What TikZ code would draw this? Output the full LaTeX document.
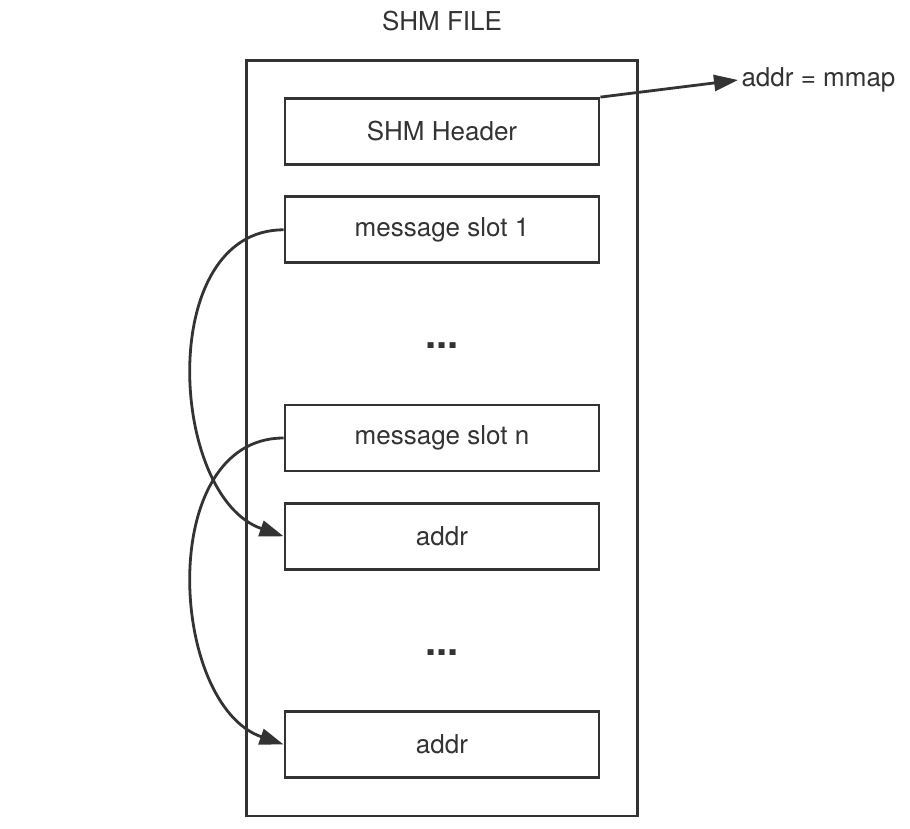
\documentclass[tikz,border=0pt]{standalone}
\usepackage{fontspec}
\setmainfont{TeX Gyre Heros}
\usepackage{tikz}
\usetikzlibrary{arrows.meta, positioning, fit}
\definecolor{ink}{HTML}{333333}
\tikzset{
  slot/.style={rectangle, draw=ink, line width=2.8pt, fill=white,
               minimum width=314pt, minimum height=66pt, text=ink,
               inner sep=0pt},
  gap/.style={rectangle, minimum width=314pt, minimum height=80pt,
              text height=30pt, text depth=0pt, text=ink, inner sep=0pt,
              font=\fontsize{40}{40}\bfseries},
  filebox/.style={rectangle, draw=ink, line width=2.8pt, inner sep=37pt},
  arrow/.style={-{Triangle[length=24pt, width=16pt]}, line width=2.8pt, draw=ink},
}

\begin{document}
\begin{tikzpicture}[x=1pt, y=-1pt, node distance=29.5pt,
                    font=\fontsize{26}{30}\selectfont]

  \useasboundingbox (0,0) rectangle (910,828);

  \node[slot]                    (hdr)   at (442,131.5) {SHM Header};
  \node[slot,  below=of hdr]     (slot1) {message slot 1};
  \node[gap,   below=of slot1]   (dots1) {...};
  \node[slot,  below=of dots1]   (slotn) {message slot n};
  \node[slot,  below=of slotn]   (addr1) {addr};
  \node[gap,   below=of addr1]   (dots2) {...};
  \node[slot,  below=of dots2]   (addr2) {addr};

  \node[filebox, fit=(hdr) (addr2)] (file) {};
  \node[text=ink, above=24pt of file] (title) {SHM FILE};
  \node[text=ink, anchor=west] (mmap) at (738,80) {addr = mmap};

  \draw[arrow] (hdr.north east) -- (mmap.west);
  \draw[arrow] (slot1.west) .. controls +(-128,0) and +(-115,-40) .. (addr1.west);
  \draw[arrow] (slotn.west) .. controls +(-128,0) and +(-115,-40) .. (addr2.west);

\end{tikzpicture}
\end{document}
